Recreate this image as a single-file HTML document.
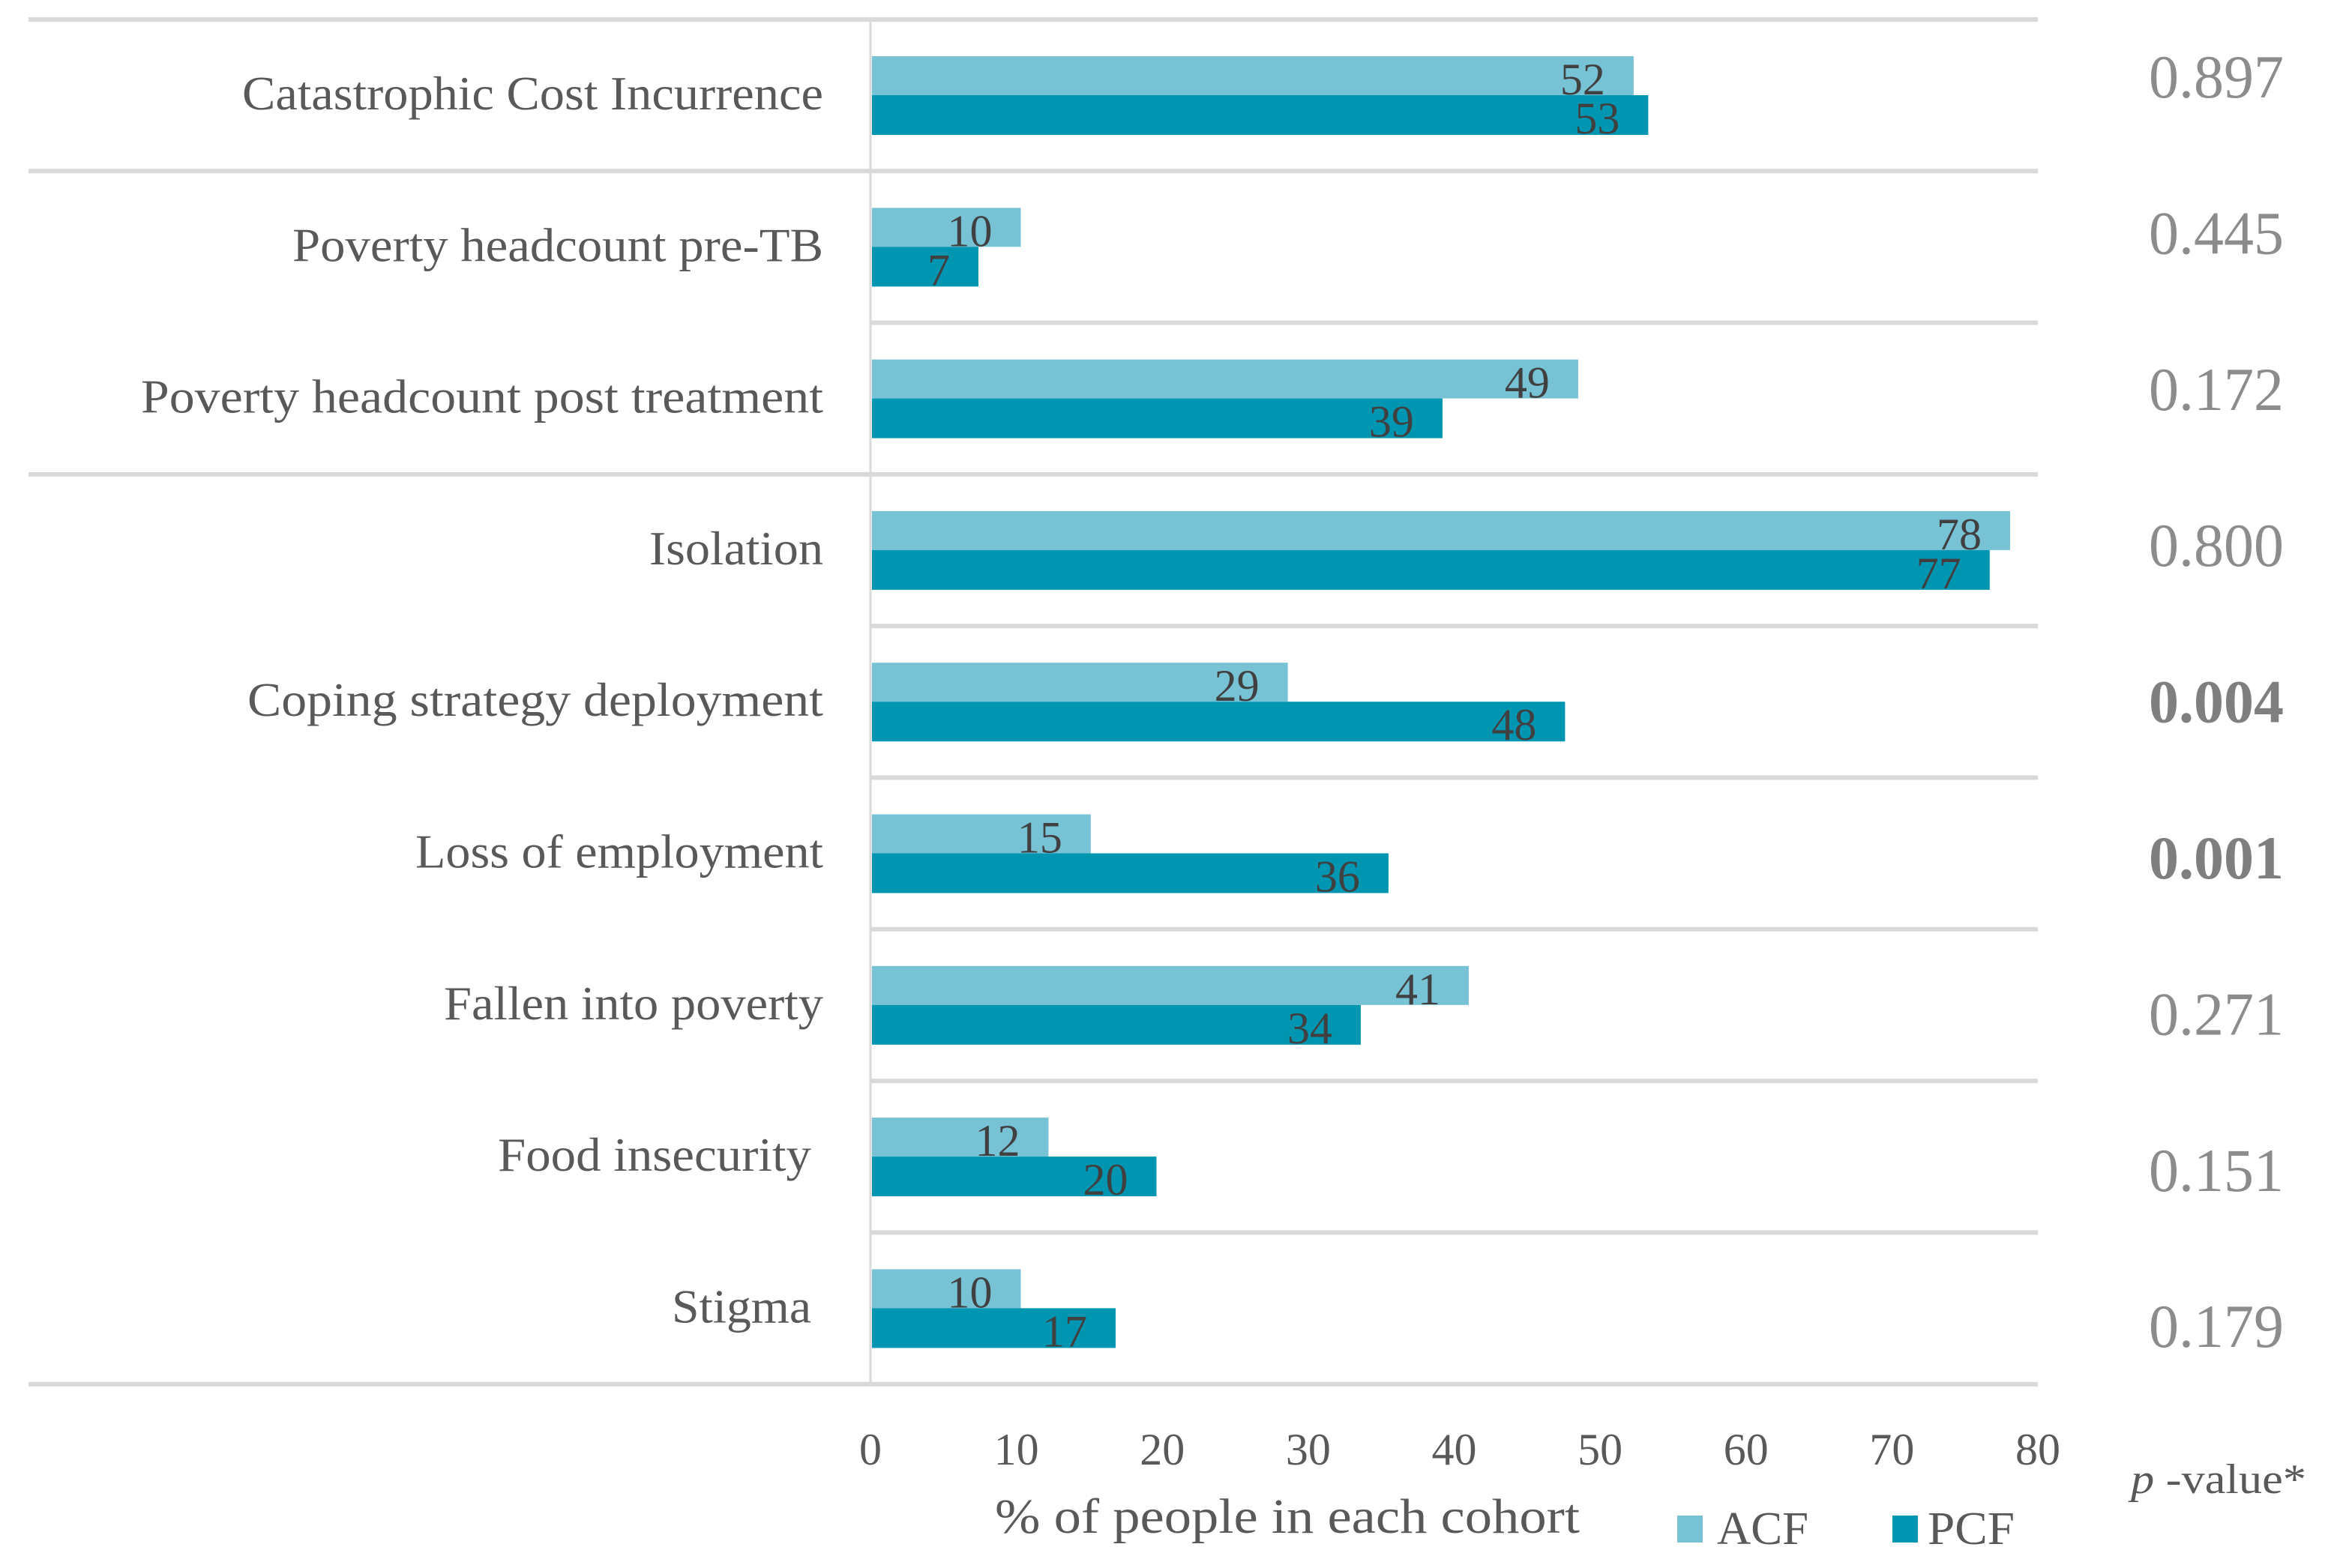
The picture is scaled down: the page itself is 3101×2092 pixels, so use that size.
<!DOCTYPE html>
<html><head><meta charset="utf-8"><style>
html,body{margin:0;padding:0;background:#fff;width:3101px;height:2092px;overflow:hidden}
svg{display:block;font-family:"Liberation Serif",serif}
</style></head><body>
<svg id="chart" width="3101" height="2092" viewBox="0 0 3101 2092" xmlns="http://www.w3.org/2000/svg">
<g id="grid"></g>
<g id="bars"></g>
<g id="labels"></g>
<g id="pvals"></g>
<g id="ticks"></g>
<text x="1717" y="2045" font-size="66" fill="#595959" text-anchor="middle" textLength="780" lengthAdjust="spacingAndGlyphs">% of people in each cohort</text>
<g><rect x="2237" y="2022" width="34" height="36" fill="#78c2d6"/><text x="2290" y="2060" font-size="62" fill="#595959" textLength="122" lengthAdjust="spacingAndGlyphs">ACF</text></g>
<g><rect x="2524" y="2022" width="34" height="36" fill="#0096b1"/><text x="2571" y="2060" font-size="62" fill="#595959" textLength="116" lengthAdjust="spacingAndGlyphs">PCF</text></g>
<text x="2842" y="1992" font-size="56" fill="#595959" textLength="234" lengthAdjust="spacingAndGlyphs"><tspan font-style="italic">p</tspan> -value*</text>
</svg>
<script>
const categories = ["Catastrophic Cost Incurrence","Poverty headcount pre-TB","Poverty headcount post treatment","Isolation","Coping strategy deployment","Loss of employment","Fallen into poverty","Food insecurity","Stigma"];
const acfValues = [52.3,10.3,48.5,78.1,28.6,15.1,41,12.2,10.3];
const pcfValues = [53.3,7.4,39.2,76.7,47.6,35.5,33.6,19.6,16.8];
const valueText = ["52","10","49","78","29","15","41","12","10"];
const valueTextPcf = ["53","7","39","77","48","36","34","20","17"];
const pValues = ["0.897","0.445","0.172","0.800","0.004","0.001","0.271","0.151","0.179"];
const pBold = [false,false,false,false,true,true,false,false,false];
const xTicks = [0,10,20,30,40,50,60,70,80];
const labelWidths = [775,708,910,232,768,544,506,418,186];
const labelRightPad = [0,0,0,0,0,0,0,16,16];

const NS="http://www.w3.org/2000/svg";
const X0=1161, X1=2718, XMAX=80, TOP=26, ROWH=202.3, PSTEP=208.4;
const x = v => X0 + v/XMAX*(X1-X0);
const rowY = i => TOP + i*ROWH;
function mk(tag, attrs, parent, txt){const e=document.createElementNS(NS,tag);for(const k in attrs)e.setAttribute(k,attrs[k]);if(txt!==undefined)e.textContent=txt;parent.appendChild(e);return e;}
const grid=document.getElementById('grid'), bars=document.getElementById('bars'), labels=document.getElementById('labels'), pvals=document.getElementById('pvals'), ticks=document.getElementById('ticks');
const fullLines=[0,1,3,9];
for(let i=0;i<=categories.length;i++){
  const full=fullLines.includes(i);
  const l=mk('line',{x1:full?38:X0,x2:X1,y1:rowY(i),y2:rowY(i),stroke:'#d9d9d9','stroke-width':6},grid);
  
  
}
const ax=mk('line',{x1:X0,x2:X0,y1:TOP,y2:rowY(categories.length),stroke:'#d9d9d9','stroke-width':3},grid);


categories.forEach((c,i)=>{
  const y=rowY(i);
  const b1=mk('rect',{x:X0+2,y:y+49,width:x(acfValues[i])-X0-2,height:52,fill:'#78c2d6'},bars);
  
  
  const b2=mk('rect',{x:X0+2,y:y+101,width:x(pcfValues[i])-X0-2,height:53,fill:'#0096b1'},bars);
  
  
  const t1=mk('text',{x:x(acfValues[i])-38,y:y+100,'font-size':60,fill:'#404040','text-anchor':'end'},bars,valueText[i]);
  
  
  const t2=mk('text',{x:x(pcfValues[i])-38,y:y+152,'font-size':60,fill:'#404040','text-anchor':'end'},bars,valueTextPcf[i]);
  
  
  const lb=mk('text',{x:1098-labelRightPad[i],y:y+120,'font-size':64,fill:'#595959','text-anchor':'end',textLength:labelWidths[i],lengthAdjust:'spacingAndGlyphs'},labels,c);
  
  
  const pv=mk('text',{x:3046,y:130+i*PSTEP,'font-size':82,fill:pBold[i]?'#7f7f7f':'#8c8c8c','font-weight':pBold[i]?'bold':'normal','text-anchor':'end',textLength:180,lengthAdjust:'spacingAndGlyphs'},pvals,pValues[i]);
  
  
});
xTicks.forEach(v=>{
  const t=mk('text',{x:x(v),y:1954,'font-size':60,fill:'#595959','text-anchor':'middle'},ticks,String(v));
  
  
});
</script>
</body></html>
